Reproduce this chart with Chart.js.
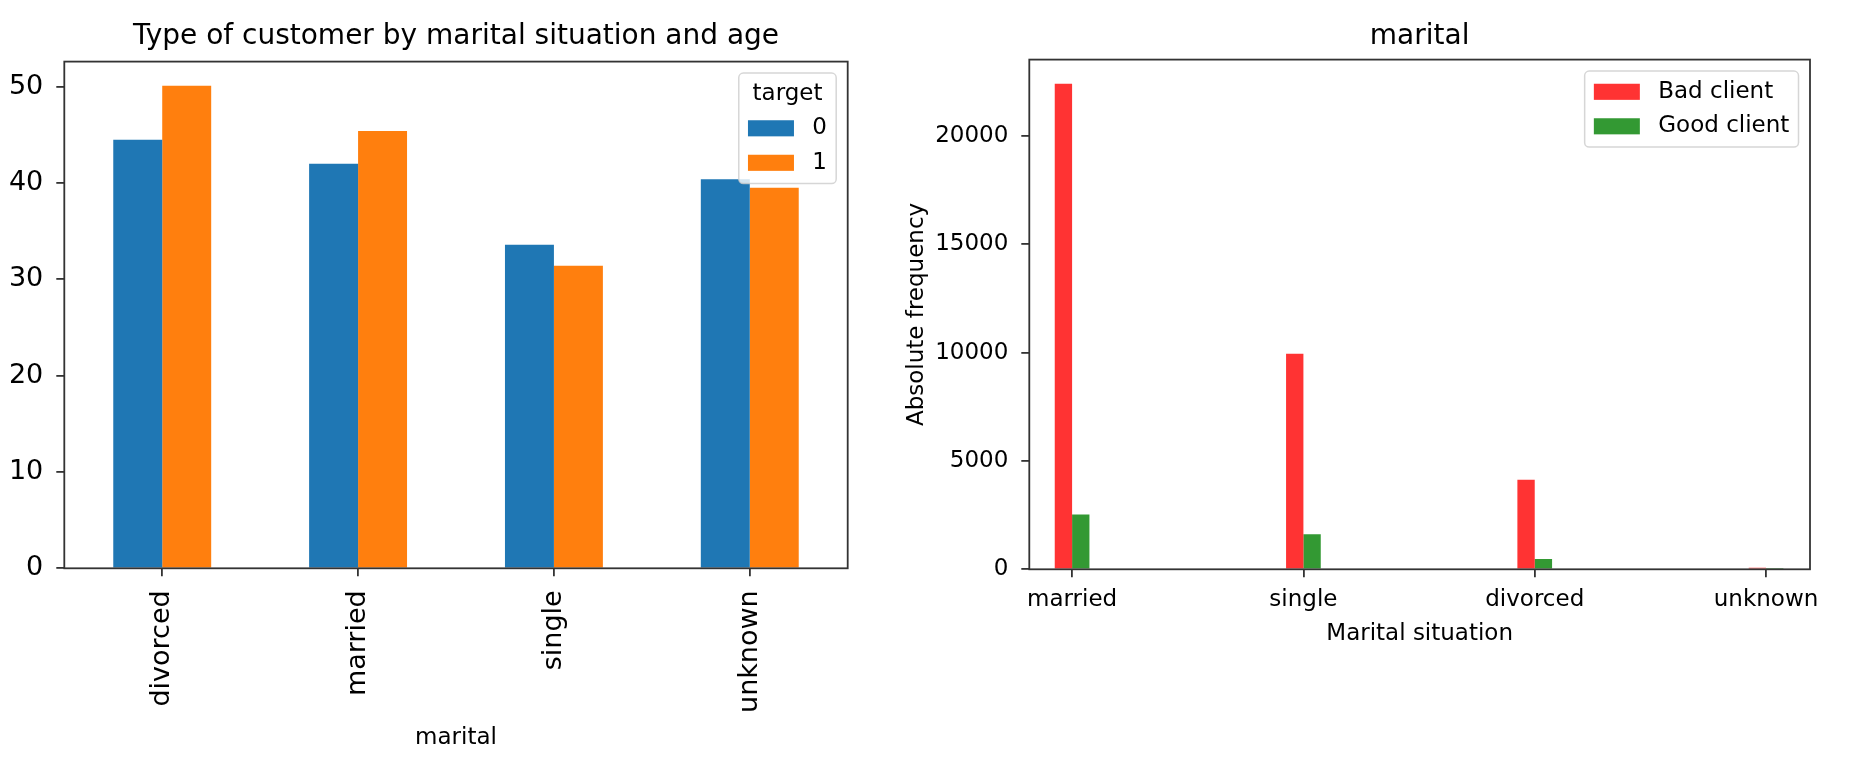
<!DOCTYPE html>
<html>
<head>
<meta charset="utf-8">
<script src="https://cdn.jsdelivr.net/npm/chart.js@4.4.1/dist/chart.umd.min.js"></script>
<style>
html, body { margin: 0; padding: 0; background: #ffffff; width: 1860px; height: 772px; overflow: hidden; }
#left { position: absolute; left: 0; top: 0; width: 880px; height: 772px; }
#right { position: absolute; left: 880px; top: 0; width: 980px; height: 772px; }
</style>
</head>
<body>
<div id="left"><canvas id="c1"></canvas></div>
<div id="right"><canvas id="c2"></canvas></div>
<script>
// ---------- data (left chart: mean age by marital status and target) ----------
const leftTitle = 'Type of customer by marital situation and age';
const leftCategories = ['divorced', 'married', 'single', 'unknown'];
const ageTarget0 = [44.5, 42.0, 33.6, 40.4];
const ageTarget1 = [50.1, 45.4, 31.4, 39.5];
const leftSeriesLabels = ['0', '1'];
const leftLegendTitle = 'target';
const leftXLabel = 'marital';
const leftYTicks = [0, 10, 20, 30, 40, 50];

// ---------- data (right chart: absolute frequency by marital status) ----------
const rightTitle = 'marital';
const rightCategories = ['married', 'single', 'divorced', 'unknown'];
const badClient = [22396, 9948, 4136, 68];
const goodClient = [2532, 1620, 476, 12];
const rightSeriesLabels = ['Bad client', 'Good client'];
const rightXLabel = 'Marital situation';
const rightYLabel = 'Absolute frequency';
const rightYTicks = [0, 5000, 10000, 15000, 20000];

// ---------- styling ----------
const FONT = 'DejaVu Sans';
Chart.defaults.font.family = FONT;
Chart.defaults.color = '#000000';

const SPINE = '#333333';
const gridStyle = {
  display: true, drawOnChartArea: false, drawTicks: true,
  tickLength: 8, color: SPINE, lineWidth: 1.8, offset: false
};

const framePlugin = {
  id: 'frame',
  afterDatasetsDraw(chart) {
    const { ctx, chartArea: a } = chart;
    ctx.save();
    ctx.strokeStyle = SPINE;
    ctx.lineWidth = 1.8;
    ctx.strokeRect(a.left, a.top, a.right - a.left, a.bottom - a.top);
    ctx.restore();
  }
};

function roundRectPath(ctx, x, y, w, h, r) {
  ctx.beginPath();
  ctx.moveTo(x + r, y);
  ctx.lineTo(x + w - r, y);
  ctx.arcTo(x + w, y, x + w, y + r, r);
  ctx.lineTo(x + w, y + h - r);
  ctx.arcTo(x + w, y + h, x + w - r, y + h, r);
  ctx.lineTo(x + r, y + h);
  ctx.arcTo(x, y + h, x, y + h - r, r);
  ctx.lineTo(x, y + r);
  ctx.arcTo(x, y, x + r, y, r);
  ctx.closePath();
}

// matplotlib-like legend drawn inside the plot area (upper right)
const mplLegendPlugin = {
  id: 'mplLegend',
  afterDraw(chart, args, opts) {
    const { ctx, chartArea } = chart;
    const fs = opts.fontSize || 23;
    ctx.save();
    ctx.font = fs + 'px "' + FONT + '"';
    const items = chart.data.datasets.map(d => ({ label: d.label, color: d.backgroundColor }));
    const handleLen = 2 * fs, handleH = 0.7 * fs, textPad = 0.8 * fs;
    const pad = 0.4 * fs, rowGap = 0.5 * fs, rowH = fs, axesPad = 0.5 * fs;
    let contentW = Math.max(...items.map(it => handleLen + textPad + ctx.measureText(it.label).width));
    if (opts.title) contentW = Math.max(contentW, ctx.measureText(opts.title).width);
    const rows = items.length + (opts.title ? 1 : 0);
    const boxW = contentW + 2 * pad;
    const boxH = rows * rowH + (rows - 1) * rowGap + 2 * pad;
    const bx = chartArea.right - axesPad - boxW;
    const by = chartArea.top + axesPad;
    roundRectPath(ctx, bx, by, boxW, boxH, 0.2 * fs);
    ctx.fillStyle = 'rgba(255,255,255,0.8)';
    ctx.fill();
    ctx.strokeStyle = 'rgba(204,204,204,0.8)';
    ctx.lineWidth = 1.5;
    ctx.stroke();
    ctx.textBaseline = 'middle';
    let cy = by + pad + rowH / 2;
    ctx.fillStyle = '#000000';
    if (opts.title) {
      ctx.textAlign = 'center';
      ctx.fillText(opts.title, bx + boxW / 2, cy);
      cy += rowH + rowGap;
    }
    ctx.textAlign = 'left';
    items.forEach(it => {
      ctx.fillStyle = it.color;
      ctx.fillRect(bx + pad, cy - handleH / 2, handleLen, handleH);
      ctx.fillStyle = '#000000';
      ctx.fillText(it.label, bx + pad + handleLen + textPad, cy);
      cy += rowH + rowGap;
    });
    ctx.restore();
  }
};

function fixedTicks(values) {
  return s => { s.ticks = values.map(v => ({ value: v })); };
}

// ---------- left chart ----------
const leftMax = Math.max(...ageTarget0, ...ageTarget1) * 1.05;
new Chart(document.getElementById('c1'), {
  type: 'bar',
  data: {
    labels: leftCategories,
    datasets: [
      { label: leftSeriesLabels[0], data: ageTarget0, backgroundColor: '#1f77b4' },
      { label: leftSeriesLabels[1], data: ageTarget1, backgroundColor: '#ff7f0e' }
    ]
  },
  plugins: [framePlugin, mplLegendPlugin],
  options: {
    responsive: true, maintainAspectRatio: false, animation: false,
    layout: { padding: { left: 0, right: 32.3, top: 0, bottom: 0 } },
    datasets: { bar: { categoryPercentage: 0.5, barPercentage: 1.0, borderWidth: 0 } },
    plugins: {
      legend: { display: false },
      tooltip: { enabled: false },
      title: {
        display: true, text: leftTitle, fullSize: false, color: '#000000',
        font: { size: 28, weight: 'normal' }, padding: { top: 20, bottom: 8 }
      },
      mplLegend: { title: leftLegendTitle, fontSize: 23 }
    },
    scales: {
      x: {
        offset: true,
        grid: gridStyle,
        border: { display: false },
        ticks: { font: { size: 27 }, color: '#000000', minRotation: 90, maxRotation: 90, autoSkip: false, padding: 14 },
        title: { display: true, text: leftXLabel, color: '#000000', font: { size: 23 }, padding: { top: 0, bottom: 20.6 } },
        afterFit: s => { s.height = 203.7; }
      },
      y: {
        min: 0, max: leftMax,
        grid: gridStyle,
        border: { display: false },
        afterBuildTicks: fixedTicks(leftYTicks),
        ticks: { font: { size: 27 }, color: '#000000', padding: 13, callback: v => String(v) },
        afterFit: s => { s.width = 64.3; }
      }
    }
  }
});

// ---------- right chart ----------
const rightMax = Math.max(...badClient, ...goodClient) * 1.05;
new Chart(document.getElementById('c2'), {
  type: 'bar',
  data: {
    datasets: [
      { label: rightSeriesLabels[0], data: badClient.map((v, i) => ({ x: i, y: v })), backgroundColor: 'rgba(255,0,0,0.8)' },
      { label: rightSeriesLabels[1], data: goodClient.map((v, i) => ({ x: i, y: v })), backgroundColor: 'rgba(0,128,0,0.8)' }
    ]
  },
  plugins: [framePlugin, mplLegendPlugin],
  options: {
    responsive: true, maintainAspectRatio: false, animation: false,
    layout: { padding: { left: 0, right: 50, top: 0, bottom: 122.7 } },
    datasets: { bar: { categoryPercentage: 0.15, barPercentage: 1.0, borderWidth: 0 } },
    plugins: {
      legend: { display: false },
      tooltip: { enabled: false },
      title: {
        display: true, text: rightTitle, fullSize: false, color: '#000000',
        font: { size: 28, weight: 'normal' }, padding: { top: 20, bottom: 6 }
      },
      mplLegend: { fontSize: 23 }
    },
    scales: {
      x: {
        type: 'linear', offset: false, min: -0.185, max: 3.19,
        grid: gridStyle,
        border: { display: false },
        afterBuildTicks: fixedTicks(rightCategories.map((c, i) => i)),
        ticks: {
          autoSkip: false, maxRotation: 0, minRotation: 0,
          font: { size: 23 }, color: '#000000', padding: 9,
          callback: v => (rightCategories[Math.round(v)] !== undefined ? rightCategories[Math.round(v)] : '')
        },
        title: { display: true, text: rightXLabel, color: '#000000', font: { size: 23 }, padding: { top: 0, bottom: 1.8 } },
        afterFit: s => { s.height = 80; }
      },
      y: {
        min: 0, max: rightMax,
        grid: gridStyle,
        border: { display: false },
        afterBuildTicks: fixedTicks(rightYTicks),
        ticks: { font: { size: 23 }, color: '#000000', padding: 13, callback: v => String(v) },
        title: { display: true, text: rightYLabel, color: '#000000', font: { size: 23 }, padding: { top: 23, bottom: 0 } },
        afterFit: s => { s.width = 149.3; }
      }
    }
  }
});
</script>
</body>
</html>
